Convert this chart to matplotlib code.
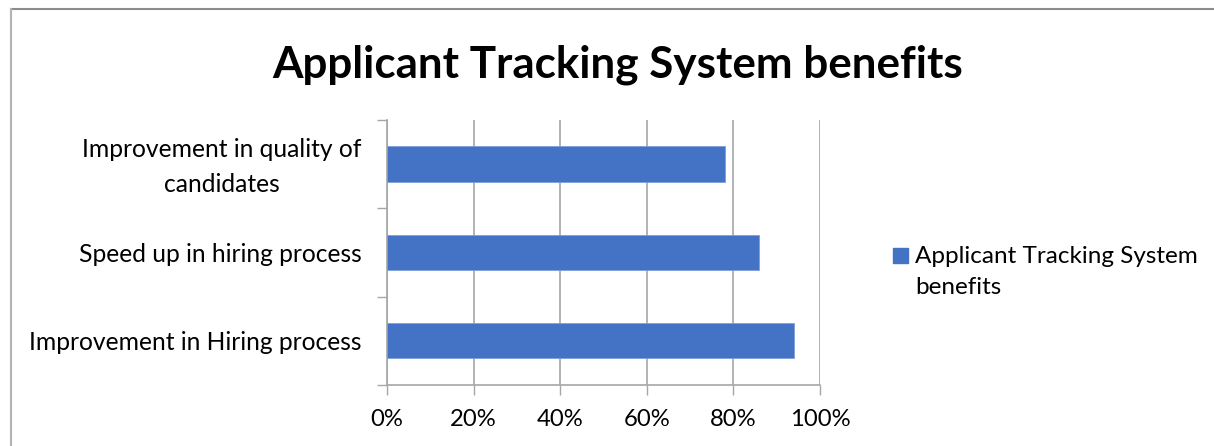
import matplotlib.pyplot as plt
from matplotlib.lines import Line2D
from matplotlib.patches import Rectangle
from matplotlib.ticker import PercentFormatter
from matplotlib.transforms import ScaledTranslation

categories = [
    "Improvement in Hiring process",
    "Speed up in hiring process",
    "Improvement in quality of\ncandidates",
]
values = [0.94, 0.86, 0.78]
x_ticks = [0, 0.2, 0.4, 0.6, 0.8, 1.0]
series_name = "Applicant Tracking System\nbenefits"
title = "Applicant Tracking System benefits"

BAR_COLOR = "#4472C4"
GRID_COLOR = "#a6a6a6"
W, H = 1214, 446

plt.rcParams["font.family"] = ["Lato", "DejaVu Sans"]

fig = plt.figure(figsize=(W / 100, H / 100), dpi=100)
ax = fig.add_axes([0.3188, 0.1368, 0.3567, 0.5942])

positions = list(range(len(categories)))
ax.barh(
    positions,
    values,
    height=0.4,
    color=BAR_COLOR,
    edgecolor="#7f9fd9",
    linewidth=0.6,
    zorder=3
)

ax.set_xlim(0, 1.0)
ax.set_ylim(-0.5, len(categories) - 0.5)
ax.set_xticks(x_ticks)
ax.xaxis.set_major_formatter(PercentFormatter(1.0, decimals=0))

# category boundary ticks like Excel
ax.set_yticks([p - 0.5 for p in positions] + [len(categories) - 0.5])
ax.set_yticklabels([])
ax.set_yticks(positions, minor=True)
labels = ax.set_yticklabels(categories, minor=True, multialignment="center",
                            linespacing=1.6)
ax.tick_params(axis="y", which="minor", length=0, pad=18.5, labelsize=17.7)
ax.tick_params(axis="y", which="major", length=7, width=1, color=GRID_COLOR)
ax.tick_params(axis="x", length=7, width=1, color=GRID_COLOR,
               labelsize=17.2, pad=10)

# nudge two-line label up a little
for lab in labels:
    if "\n" in lab.get_text():
        lab.set_transform(lab.get_transform()
                          + ScaledTranslation(0, 0.05, fig.dpi_scale_trans))

ax.grid(axis="x", color=GRID_COLOR, linewidth=1.2, zorder=0)
for side in ["top", "right"]:
    ax.spines[side].set_visible(False)
for side in ["left", "bottom"]:
    ax.spines[side].set_color(GRID_COLOR)
    ax.spines[side].set_linewidth(1.2)

fig.text(0.5084, 1 - 65 / H, title, ha="center", va="center",
         fontsize=31.7, fontweight="bold")

# legend drawn by hand so the key sits beside the first line
fig.patches.append(Rectangle((893 / W, 1 - 263 / H), 15 / W, 15 / H,
                             transform=fig.transFigure, color=BAR_COLOR))
fig.text(915 / W, 1 - 246 / H, series_name, ha="left", va="top",
         fontsize=17.5, linespacing=1.6)

# outer chart border (top and left edges visible)
fig.add_artist(Line2D([10.5 / W, 1], [1 - 8.5 / H, 1 - 8.5 / H],
                      transform=fig.transFigure, color="#8c8c8c", lw=1.5))
fig.add_artist(Line2D([10.5 / W, 10.5 / W], [0, 1 - 8.5 / H],
                      transform=fig.transFigure, color="#b3b3b3", lw=1.5))

fig.savefig("out.png", dpi=100)
plt.close(fig)
